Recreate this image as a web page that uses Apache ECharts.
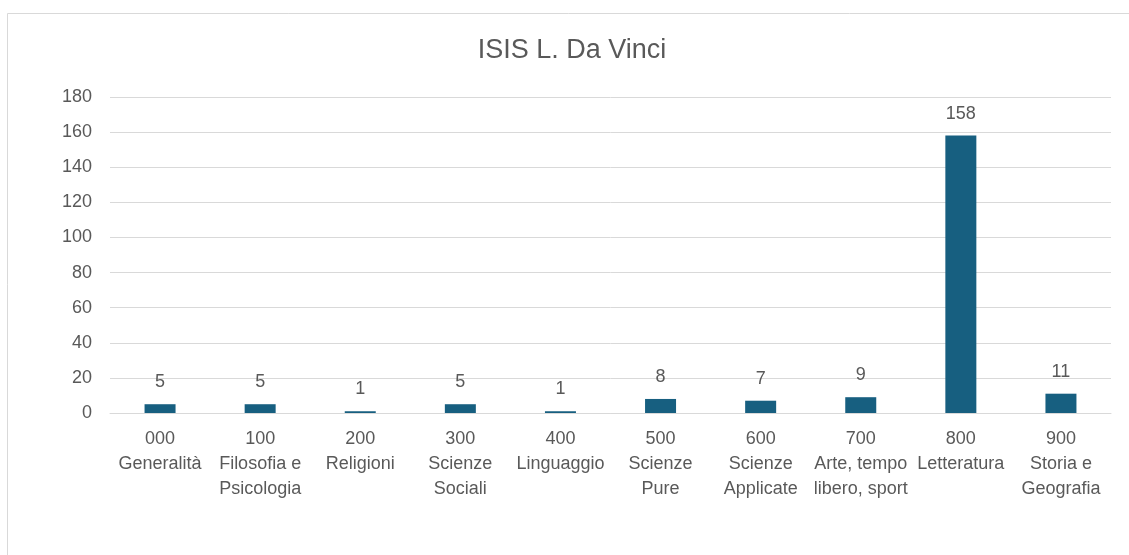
<!DOCTYPE html>
<html>
<head>
<meta charset="utf-8">
<script src="https://cdn.jsdelivr.net/npm/echarts@6/dist/echarts.min.js"></script>
<style>
html,body{margin:0;padding:0;background:#fff;}
#chart{width:1129px;height:555px;}
</style>
</head>
<body>
<div id="chart"></div>
<script>
const titleText = 'ISIS L. Da Vinci';
const categories = [
  '000\nGeneralità',
  '100\nFilosofia e\nPsicologia',
  '200\nReligioni',
  '300\nScienze\nSociali',
  '400\nLinguaggio',
  '500\nScienze\nPure',
  '600\nScienze\nApplicate',
  '700\nArte, tempo\nlibero, sport',
  '800\nLetteratura',
  '900\nStoria e\nGeografia'
];
const values = [5, 5, 1, 5, 1, 8, 7, 9, 158, 11];
const yMin = 0, yMax = 180, yStep = 20;

const font = 'Liberation Sans, Arial, sans-serif';
const textColor = '#595959';
const chart = echarts.init(document.getElementById('chart'));
chart.setOption({
  animation: false,
  backgroundColor: '#ffffff',
  graphic: [{
    type: 'rect',
    shape: {x: 7.5, y: 13.5, width: 1200, height: 700},
    style: {fill: 'none', stroke: '#d9d9d9', lineWidth: 1},
    silent: true
  }],
  title: {
    text: titleText,
    left: 567,
    textAlign: 'center',
    top: 32,
    textStyle: {fontFamily: font, fontSize: 27, fontWeight: 'normal', color: textColor}
  },
  grid: {left: 110, right: 18, top: 97, bottom: 142, containLabel: false},
  xAxis: {
    type: 'category',
    data: categories,
    axisLine: {show: true, lineStyle: {color: '#d9d9d9', width: 1}},
    axisTick: {show: false},
    axisLabel: {
      interval: 0,
      margin: 14,
      fontFamily: font,
      fontSize: 18,
      lineHeight: 25,
      color: textColor,
      align: 'center'
    }
  },
  yAxis: {
    type: 'value',
    min: yMin, max: yMax, interval: yStep,
    axisLine: {show: false},
    axisTick: {show: false},
    splitLine: {lineStyle: {color: '#d9d9d9', width: 1}},
    axisLabel: {margin: 18, fontFamily: font, fontSize: 18, color: textColor}
  },
  series: [{
    type: 'bar',
    data: values,
    barWidth: 31,
    itemStyle: {color: '#175f80'},
    label: {
      show: true,
      position: 'top',
      distance: 13,
      fontFamily: font,
      fontSize: 18,
      color: textColor
    }
  }]
});
</script>
</body>
</html>
